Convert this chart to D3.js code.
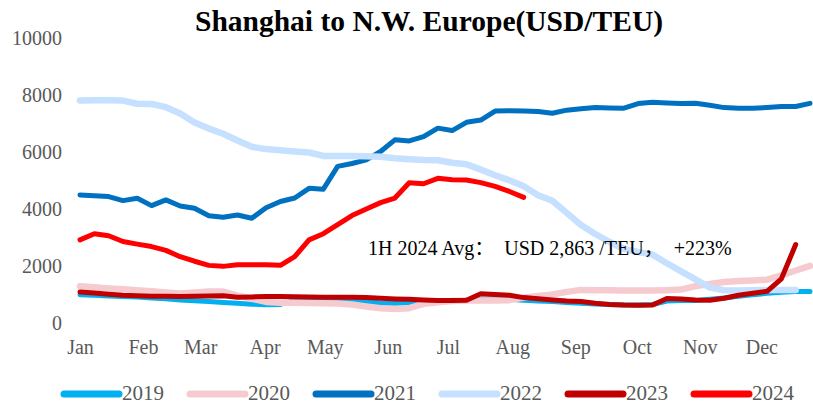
<!DOCTYPE html>
<html>
<head>
<meta charset="utf-8">
<script src="https://cdn.jsdelivr.net/npm/d3@7"></script>
<style>
  body { margin: 0; background: #fff; }
  svg text { font-family: "Liberation Serif", "Times New Roman", "Noto Sans CJK SC", serif; }
</style>
</head>
<body>
<div id="chart"></div>
<script>
// weekly freight rates, one array per year
const years = ['2019', '2020', '2021', '2022', '2023', '2024'];
const colors = ['#00b0f0', '#f6cbd0', '#0070c0', '#c6e0ff', '#c00000', '#ff0000'];
const widths = [5, 6.5, 5, 6.5, 5, 5];

const s2019 = [990, 970, 950, 930, 910, 880, 850, 810, 780, 750, 720, 690, 660, 640, 650, 790, 850, 840, 830, 790,
  750, 700, 690, 710, 770, 790, 790, 800, 830, 850, 830, 800, 770, 750, 720, 690, 670, 650, 630, 630,
  650, 770, 790, 790, 830, 880, 940, 990, 1040, 1080, 1100, 1100];
const s2020 = [1285, 1250, 1210, 1180, 1150, 1110, 1070, 1030, 1070, 1105, 1100, 960, 850, 740, 710, 710, 700, 695, 680, 650,
  580, 520, 490, 520, 670, 730, 770, 790, 790, 790, 800, 890, 950, 1000, 1090, 1160, 1150, 1145, 1140, 1140,
  1140, 1150, 1170, 1290, 1370, 1440, 1470, 1490, 1520, 1670, 1840, 2000];
const s2021 = [4490, 4460, 4430, 4290, 4375, 4115, 4315, 4100, 4020, 3760, 3710, 3785, 3670, 4040, 4260, 4380, 4720, 4690, 5490, 5590,
  5720, 6010, 6420, 6380, 6530, 6830, 6745, 7035, 7115, 7430, 7440, 7430, 7410, 7350, 7460, 7510, 7550, 7540, 7530, 7690,
  7740, 7710, 7690, 7700, 7630, 7550, 7530, 7525, 7550, 7585, 7590, 7700];
const s2022 = [7800, 7805, 7805, 7795, 7685, 7675, 7565, 7345, 7025, 6815, 6635, 6395, 6175, 6095, 6055, 6015, 5975, 5855, 5855, 5855,
  5845, 5825, 5775, 5740, 5715, 5705, 5615, 5565, 5375, 5180, 5000, 4790, 4480, 4285, 3860, 3435, 3120, 2840, 2600, 2490,
  2395, 2095, 1810, 1530, 1240, 1150, 1135, 1145, 1160, 1160, 1160];
const s2023 = [1085, 1050, 1010, 970, 955, 940, 935, 930, 940, 950, 955, 905, 915, 925, 930, 920, 910, 905, 905, 905,
  890, 870, 845, 830, 810, 790, 790, 795, 1025, 1000, 975, 890, 850, 805, 770, 755, 690, 650, 630, 625,
  630, 860, 840, 810, 800, 870, 970, 1040, 1110, 1550, 2750];
const s2024 = [2915, 3130, 3060, 2855, 2765, 2680, 2545, 2325, 2165, 2020, 1985, 2040, 2045, 2040, 2020, 2325, 2915, 3130, 3450, 3765,
  3995, 4220, 4380, 4915, 4880, 5070, 5020, 5015, 4920, 4790, 4610, 4405];

const series = [s2019, s2020, s2021, s2022, s2023, s2024];

const months = ['Jan', 'Feb', 'Mar', 'Apr', 'May', 'Jun', 'Jul', 'Aug', 'Sep', 'Oct', 'Nov', 'Dec'];
const monthPos = [0, 4.4, 8.4, 12.9, 17.1, 21.5, 25.7, 30.2, 34.6, 38.9, 43.3, 47.6];
const yTicks = [0, 2000, 4000, 6000, 8000, 10000];

const annotation = '1H 2024 Avg：  USD 2,863 /TEU，  +223%';

const width = 813;
const height = 404;

const svg = d3.select('#chart')
  .append('svg')
  .attr('width', width)
  .attr('height', height);

const x = d3.scaleLinear().domain([0, 51]).range([80, 810]);
const y = d3.scaleLinear().domain([0, 10000]).range([323, 37.7]);

// title
svg.append('text')
  .attr('x', 429)
  .attr('y', 31)
  .attr('text-anchor', 'middle')
  .attr('font-size', '29.5px')
  .attr('font-weight', 'bold')
  .attr('fill', '#000')
  .text('Shanghai to N.W. Europe(USD/TEU)');

// y axis (labels only)
const yAxis = svg.append('g')
  .attr('transform', 'translate(62,0)')
  .call(d3.axisLeft(y).tickValues(yTicks).tickSize(0).tickPadding(0).tickFormat(d3.format('d')));
yAxis.select('.domain').remove();
yAxis.selectAll('text')
  .attr('font-size', '20px')
  .attr('font-family', null)
  .attr('fill', '#595959');

// x axis (labels only)
const xAxis = svg.append('g')
  .attr('transform', 'translate(0,340)')
  .call(d3.axisBottom(x).tickValues(monthPos).tickSize(0).tickPadding(0)
    .tickFormat((d, i) => months[i]));
xAxis.select('.domain').remove();
xAxis.selectAll('text')
  .attr('font-size', '20px')
  .attr('font-family', null)
  .attr('fill', '#595959');

const line = d3.line()
  .x((d, i) => x(i))
  .y((d) => y(d));

svg.append('g')
  .selectAll('path')
  .data(series)
  .join('path')
  .attr('d', (d) => line(d))
  .attr('fill', 'none')
  .attr('stroke', (d, i) => colors[i])
  .attr('stroke-width', (d, i) => widths[i])
  .attr('stroke-linejoin', 'round')
  .attr('stroke-linecap', 'round');

// annotation
svg.append('text')
  .attr('x', 368)
  .attr('y', 255)
  .attr('font-size', '20px')
  .attr('fill', '#000')
  .attr('xml:space', 'preserve')
  .style('white-space', 'pre')
  .text(annotation);

// legend
const legend = svg.append('g')
  .selectAll('g')
  .data(years)
  .join('g')
  .attr('transform', (d, i) => `translate(${64 + i * 126},394)`);

legend.append('line')
  .attr('x1', 0)
  .attr('x2', 55)
  .attr('stroke', (d, i) => colors[i])
  .attr('stroke-width', 7)
  .attr('stroke-linecap', 'round');

legend.append('text')
  .attr('x', 58)
  .attr('y', 6)
  .attr('font-size', '21px')
  .attr('fill', '#595959')
  .text((d) => d);
</script>
</body>
</html>
